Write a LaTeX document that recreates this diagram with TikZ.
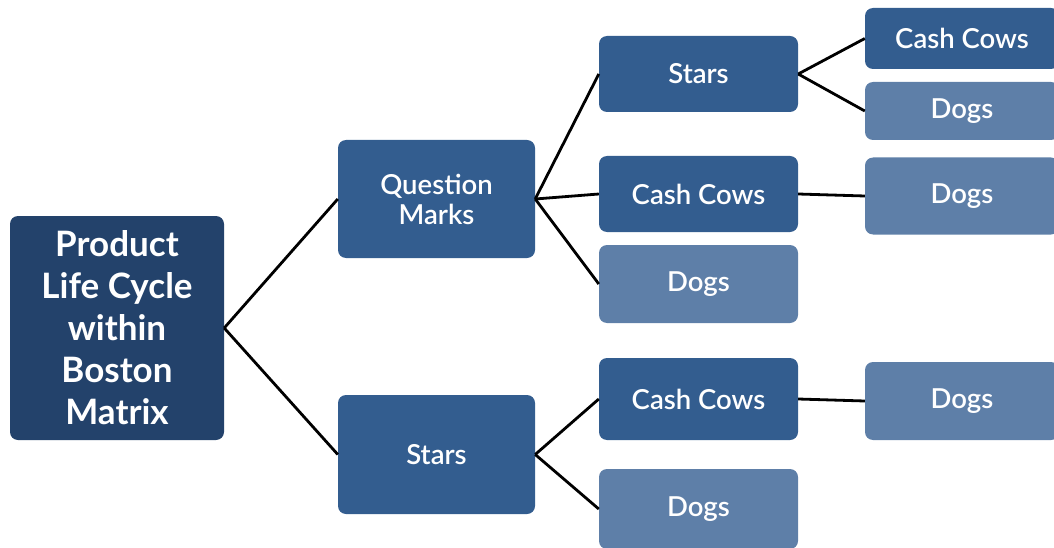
\documentclass[tikz,border=0pt]{standalone}
\usepackage{fontspec}
\setmainfont{Lato}
\newfontfamily\semib{Lato Semibold}
\begin{document}
\begin{tikzpicture}[x=1pt,y=1pt,
  box/.style={rectangle, rounded corners=8pt, inner sep=0pt, text=white, align=center, font=\semib\fontsize{27.5}{30}\selectfont},
  darkbox/.style={box, fill=boxdark},
  lightbox/.style={box, fill=boxlight},
  rootbox/.style={box, fill=boxroot, font=\bfseries\fontsize{35}{42}\selectfont},
  link/.style={draw=black, line width=2.8pt}]
\definecolor{boxdark}{HTML}{335D8F}
\definecolor{boxlight}{HTML}{5E7FA8}
\definecolor{boxroot}{HTML}{23426B}
\useasboundingbox (0,0) rectangle (1054,-548);
\clip (0,0) rectangle (1054,-548);
% root
\node[rootbox, minimum width=214pt, minimum height=224pt] (root) at (117,-328) {Product\\Life Cycle\\within\\Boston\\Matrix};
% level 1
\node[darkbox, minimum width=197pt, minimum height=118pt] (qm) at (436.5,-199) {Question\\Marks};
\node[darkbox, minimum width=197pt, minimum height=119pt] (st) at (436.5,-454.5) {Stars};
% level 2
\node[darkbox, minimum width=199pt, minimum height=76pt] (qs) at (698.5,-74) {Stars};
\node[darkbox, minimum width=199pt, minimum height=76pt] (qc) at (698.5,-194) {Cash Cows};
\node[lightbox, minimum width=199pt, minimum height=78pt] (qd) at (698.5,-284) {Dogs};
\node[darkbox, minimum width=199pt, minimum height=82pt] (sc) at (698.5,-399) {Cash Cows};
\node[lightbox, minimum width=199pt, minimum height=80pt] (sd) at (698.5,-509) {Dogs};
% level 3
\node[darkbox, minimum width=194pt, minimum height=61pt] (qsc) at (962,-38.5) {Cash Cows};
\node[lightbox, minimum width=194pt, minimum height=58pt] (qsd) at (962,-111) {Dogs};
\node[lightbox, minimum width=194pt, minimum height=77pt] (qcd) at (962,-196) {Dogs};
\node[lightbox, minimum width=194pt, minimum height=78pt] (scd) at (962,-401) {Dogs};
% links
\draw[link] (root.east) -- (qm.west);
\draw[link] (root.east) -- (st.west);
\draw[link] (qm.east) -- (qs.west);
\draw[link] (qm.east) -- (qc.west);
\draw[link] (qm.east) -- (qd.west);
\draw[link] (st.east) -- (sc.west);
\draw[link] (st.east) -- (sd.west);
\draw[link] (qs.east) -- (qsc.west);
\draw[link] (qs.east) -- (qsd.west);
\draw[link] (qc.east) -- (qcd.west);
\draw[link] (sc.east) -- (scd.west);
\end{tikzpicture}
\end{document}
